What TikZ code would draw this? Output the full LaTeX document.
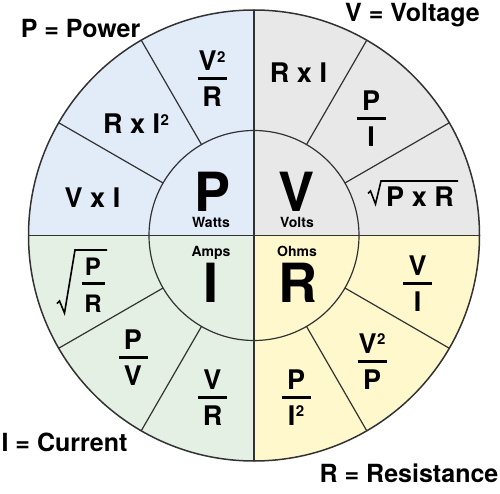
\documentclass[tikz,border=0pt]{standalone}
\usepackage{fontspec}
\setmainfont{TeX Gyre Heros}
\usetikzlibrary{calc}
\definecolor{pblue}{RGB}{226,235,248}
\definecolor{vgrey}{RGB}{232,232,233}
\definecolor{igreen}{RGB}{227,240,227}
\definecolor{ryellow}{RGB}{254,248,204}
\definecolor{linec}{RGB}{50,50,50}
\newcommand\mkfrac[5]{%
  \node[ftxt] (#1n) at (#2,#3-8) {#4};
  \node[ftxt] (#1d) at (#2,#3+28) {#5};
  \draw[bar] (#2-14.5,#3) -- (#2+14.5,#3);}
\newcommand\sqtwo{\kern0.6pt\raisebox{8.6pt}{\fontsize{15}{15}\selectfont 2}}
\begin{document}
\begin{tikzpicture}[x=1pt,y=-1pt,
  line/.style={draw=linec,line width=1.2pt},
  title/.style={font=\bfseries\fontsize{25}{25}\selectfont,inner sep=0pt,anchor=base},
  big/.style={font=\bfseries\fontsize{54}{54}\selectfont,inner sep=0pt,anchor=base,text height=38pt,text depth=0pt},
  unit/.style={font=\bfseries\fontsize{14}{14}\selectfont,inner sep=0pt,anchor=base,text height=10pt,text depth=0pt},
  ftxt/.style={font=\bfseries\fontsize{27}{27}\selectfont,inner sep=0pt,anchor=base},
  sftxt/.style={font=\bfseries\fontsize{24}{24}\selectfont,inner sep=0pt,anchor=base},
  bar/.style={line width=3pt},
  rad/.style={line width=1.6pt,line join=miter}]
\useasboundingbox (0,0) rectangle (500,494);
\coordinate (C) at (254,235.5);
% quadrant fills
\fill[pblue] (C) -- +(180:225.5) arc[start angle=180,end angle=270,radius=225.5] -- cycle;
\fill[vgrey] (C) -- +(270:225.5) arc[start angle=270,end angle=360,radius=225.5] -- cycle;
\fill[ryellow] (C) -- +(0:225.5) arc[start angle=0,end angle=90,radius=225.5] -- cycle;
\fill[igreen] (C) -- +(90:225.5) arc[start angle=90,end angle=180,radius=225.5] -- cycle;
% lines
\coordinate (W) at ($(C)+(-225.5,0)$);
\coordinate (E) at ($(C)+(225.5,0)$);
\coordinate (N) at ($(C)+(0,-225.5)$);
\coordinate (S) at ($(C)+(0,225.5)$);
\draw[line] (W) -- (E);
\draw[line] (N) -- (S);
\draw[line] (C) circle[radius=105];
\foreach \a in {30,60,120,150,210,240,300,330}
  \draw[line] ($(C)+(\a:105)$) -- ($(C)+(\a:225.5)$);
\draw[line,line width=1.5pt] (C) circle[radius=225.5];
% titles
\node[title] (tp) at (80.5,38) {P = Power};
\node[title] (tv) at (412.5,22) {V = Voltage};
\node[title] (ti) at (64.5,451) {I = Current};
\node[title] (tr) at (409,482) {R = Resistance};
% centre letters
\node[big] (bp) at (212.5,211.5) {P};
\node[big] (bv) at (296.5,211.5) {V};
\node[big] (bi) at (211,302) {I};
\node[big] (br) at (297.5,302) {R};
\node[unit] (uw) at (211,227.5) {Watts};
\node[unit] (uv) at (297,227.5) {Volts};
\node[unit] (ua) at (211,256) {Amps};
\node[unit] (uo) at (297,256) {Ohms};
% P quadrant
\mkfrac{pvr}{212}{79}{V\sqtwo}{R}
\node[ftxt] (pri) at (136,134) {R x I\sqtwo};
\node[ftxt] (pvi) at (92.5,208) {V x I};
% V quadrant
\node[ftxt] (vri) at (298.5,83) {R x I};
\mkfrac{vpi}{371}{119}{P}{I}
\node[ftxt] (vpr) at (420,207) {P x R};
\draw[rad] (368,193.5) -- (370.5,191) -- (375.5,204) -- (381,181) -- (458,181);
% R quadrant
\mkfrac{rvi}{417.5}{283}{V}{I}
\mkfrac{rvp}{372}{361}{V\sqtwo}{P}
\mkfrac{rpi}{296}{397}{P}{I\sqtwo}
% I quadrant
\node[sftxt] (ipn) at (93,275) {P};
\node[sftxt] (ird) at (93,312) {R};
\draw[bar] (81.5,283) -- (104.5,283);
\draw[rad] (57,303.5) -- (59.5,301) -- (64.5,313) -- (75,250) -- (107,250);
\mkfrac{ipv}{133}{357}{P}{V}
\mkfrac{ivr}{212.5}{397}{V}{R}
\end{tikzpicture}
\end{document}
